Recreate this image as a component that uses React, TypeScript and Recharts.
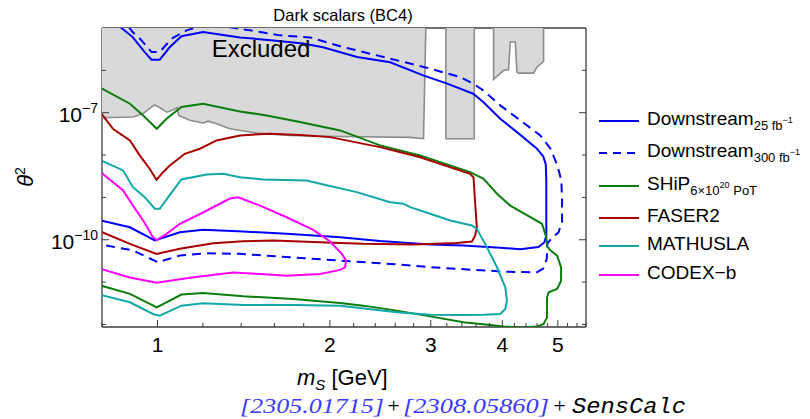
import React from 'react';
import { ComposedChart, XAxis, YAxis, Scatter } from 'recharts';

// sensitivity contours, [m_S in GeV, theta^2]
const downstream25: [number, number][] = [
  [0.825, 1.69e-5], [0.865, 1.0e-5], [0.905, 6.1e-6], [0.95, 2.7e-6], [0.976, 1.79e-6],
  [1.009, 1.79e-6], [1.051, 3.55e-6], [1.101, 6.4e-6], [1.201, 8.0e-6], [1.393, 6.0e-6],
  [1.593, 5.1e-6], [1.795, 4.3e-6], [1.945, 3.5e-6], [2.231, 2.06e-6], [2.548, 1.55e-6],
  [2.91, 7.6e-7], [3.205, 4.85e-7], [3.558, 2.81e-7], [3.705, 1.78e-7], [3.967, 7.2e-8],
  [4.243, 3.48e-8], [4.598, 1.41e-8], [4.716, 9.3e-9], [4.764, 6.0e-9], [4.774, 2.5e-9],
  [4.774, 1.26e-10], [4.736, 8.6e-11], [4.622, 6.7e-11], [4.3, 6.0e-11], [3.967, 6.5e-11],
  [3.418, 7.3e-11], [2.993, 7.7e-11], [2.447, 9.3e-11], [2.084, 1.15e-10], [1.681, 1.38e-10],
  [1.412, 1.56e-10], [1.201, 1.71e-10], [1.094, 1.5e-10], [0.989, 9.6e-11], [0.895, 1.97e-10],
  [0.796, 2.84e-10], [0.761, 3.2e-10],
];

const downstream300: [number, number][] = [
  [0.859, 2.0e-5], [0.905, 8.0e-6], [0.931, 5.7e-6], [0.976, 2.71e-6], [1.009, 2.71e-6],
  [1.058, 5.6e-6], [1.124, 8.8e-6], [1.186, 1.1e-5], [1.338, 1.04e-5], [1.45, 8.8e-6],
  [1.636, 6.7e-6], [1.846, 6.0e-6], [2.084, 3.7e-6], [2.548, 1.89e-6], [2.993, 1.1e-6],
  [3.377, 6.9e-7], [3.558, 4.85e-7], [3.705, 3.37e-7], [3.967, 1.49e-7], [4.3, 6.6e-8],
  [4.66, 2.91e-8], [4.852, 1.43e-8], [4.991, 5.7e-9], [5.072, 2.5e-9], [5.086, 8.4e-10],
  [5.086, 2.55e-10], [5.011, 1.48e-10], [4.891, 1.13e-10], [4.794, 8.1e-11], [4.784, 3.59e-11],
  [4.716, 2.08e-11], [4.585, 1.68e-11], [4.02, 1.77e-11], [2.993, 2.24e-11], [2.652, 2.59e-11],
  [2.084, 3.22e-11], [1.703, 3.86e-11], [1.393, 4.64e-11], [1.218, 4.8e-11], [1.094, 4.23e-11],
  [1.002, 2.94e-11], [0.906, 5.6e-11], [0.814, 7.3e-11], [0.777, 8.1e-11],
];

const ship: [number, number][] = [
  [0.761, 5.2e-7], [0.796, 3.82e-7], [0.895, 1.63e-7], [0.944, 8.6e-8], [0.997, 4.18e-8],
  [1.037, 7.2e-8], [1.101, 1.36e-7], [1.201, 1.63e-7], [1.393, 1.07e-7], [1.551, 8.6e-8],
  [1.773, 6.0e-8], [2.084, 3.82e-8], [2.447, 1.69e-8], [2.875, 9.8e-9], [3.516, 3.94e-9],
  [3.71, 2.75e-9], [3.915, 1.22e-9], [4.13, 6.4e-10], [4.477, 3.4e-10], [4.691, 2.38e-10],
  [4.774, 1.15e-10], [4.794, 6.9e-11], [4.852, 5.6e-11], [4.985, 4.23e-11], [5.066, 2.24e-11],
  [5.066, 1.08e-11], [4.985, 6.9e-12], [4.819, 5.74e-12], [4.788, 4.37e-12], [4.788, 1.47e-12],
  [4.722, 1.03e-12], [4.598, 8.9e-13], [4.352, 8.5e-13], [4.02, 8.9e-13], [3.811, 9.7e-13],
  [3.422, 1.12e-12], [2.993, 1.55e-12], [2.617, 2.12e-12], [2.288, 2.78e-12], [2.084, 3.22e-12],
  [1.726, 4.01e-12], [1.412, 4.62e-12], [1.201, 5.56e-12], [1.101, 5.07e-12], [0.997, 2.54e-12],
  [0.895, 5.26e-12], [0.796, 8.3e-12], [0.761, 9.7e-12],
];

const faser2: [number, number][] = [
  [0.761, 1.41e-7], [0.796, 1.0e-7], [0.836, 4.18e-8], [0.895, 2.21e-8], [0.931, 9.8e-9],
  [0.969, 4.74e-9], [0.996, 2.61e-9], [1.023, 3.94e-9], [1.051, 5.7e-9], [1.116, 1.07e-8],
  [1.186, 1.41e-8], [1.268, 2.21e-8], [1.393, 2.91e-8], [1.572, 3.19e-8], [1.773, 2.99e-8],
  [2.001, 2.65e-8], [2.447, 1.54e-8], [2.875, 8.9e-9], [3.516, 3.61e-9], [3.563, 2.95e-9],
  [3.587, 7.1e-10], [3.611, 1.97e-10], [3.587, 1.26e-10], [3.54, 9.1e-11], [3.332, 8.4e-11],
  [2.799, 7.7e-11], [2.288, 8.0e-11], [2.084, 8.4e-11], [1.593, 9.6e-11], [1.412, 9.2e-11],
  [1.251, 8.3e-11], [1.094, 6.1e-11], [0.996, 4.64e-11], [0.895, 8.0e-11], [0.796, 1.56e-10],
  [0.761, 1.81e-10],
];

const mathusla: [number, number][] = [
  [0.761, 1.09e-8], [0.796, 7.5e-9], [0.871, 4.33e-9], [0.906, 1.74e-9], [0.95, 1.01e-9],
  [0.989, 5.4e-10], [1.009, 5.4e-10], [1.044, 1.01e-9], [1.101, 2.65e-9], [1.218, 3.48e-9],
  [1.302, 3.61e-9], [1.393, 3.0e-9], [1.53, 2.65e-9], [1.822, 2.51e-9], [1.948, 2.02e-9],
  [2.228, 1.33e-9], [2.548, 7.7e-10], [2.688, 7.1e-10], [2.762, 5.9e-10], [2.993, 4.1e-10],
  [3.243, 2.84e-10], [3.54, 2.17e-10], [3.611, 1.81e-10], [3.761, 6.6e-11], [3.915, 2.24e-11],
  [4.048, 7.5e-12], [4.075, 3.65e-12], [4.048, 2.32e-12], [3.967, 1.77e-12], [3.71, 1.7e-12],
  [3.422, 1.68e-12], [2.993, 1.7e-12], [2.617, 1.93e-12], [2.084, 2.78e-12], [1.726, 2.89e-12],
  [1.412, 2.89e-12], [1.201, 3.15e-12], [1.101, 2.78e-12], [1.009, 1.61e-12], [0.982, 1.77e-12],
  [0.895, 3.33e-12], [0.796, 4.98e-12], [0.761, 5.96e-12],
];

const codexb: [number, number][] = [
  [0.761, 5.7e-9], [0.796, 3.94e-9], [0.871, 1.46e-9], [0.906, 6.4e-10], [0.944, 2.84e-10],
  [0.982, 1.15e-10], [0.997, 9.8e-11], [1.037, 1.38e-10], [1.094, 2.38e-10], [1.201, 4.4e-10],
  [1.338, 9.4e-10], [1.383, 1.01e-9], [1.51, 6.4e-10], [1.681, 3.4e-10], [1.871, 1.71e-10],
  [2.001, 9.1e-11], [2.098, 4.64e-11], [2.134, 3.22e-11], [2.126, 2.24e-11], [2.084, 1.94e-11],
  [1.922, 1.56e-11], [1.681, 1.42e-11], [1.51, 1.55e-11], [1.356, 1.68e-11], [1.139, 1.26e-11],
  [0.997, 9.7e-12], [0.895, 1.28e-11], [0.796, 2.05e-11], [0.761, 2.46e-11],
];

// excluded regions (closed outlines, top edge above the frame)
const excludedMain: [number, number][] = [
  [0.78, 2e-5], [2.944, 2e-5], [2.914, 2.43e-8], [2.762, 2.61e-8], [2.084, 2.75e-8],
  [1.703, 2.91e-8], [1.49, 3.29e-8], [1.338, 4.18e-8], [1.268, 5.5e-8], [1.226, 6.3e-8],
  [1.201, 5.7e-8], [1.139, 6.6e-8], [1.089, 8.6e-8], [1.082, 1.31e-7], [1.058, 1.13e-7],
  [1.037, 1.03e-7], [1.016, 1.26e-7], [0.989, 1.53e-7], [0.969, 1.26e-7], [0.944, 9.5e-8],
  [0.906, 7.9e-8], [0.796, 7.6e-8], [0.78, 7.5e-8],
];
const excludedStrip: [number, number][] = [
  [3.188, 2e-5], [3.188, 2.43e-8], [3.573, 2.43e-8], [3.573, 2e-5],
];
const excludedHigh: [number, number][] = [
  [3.862, 2e-5], [3.862, 6.1e-7], [4.02, 1.0e-6], [4.102, 1.04e-6], [4.13, 4.67e-6],
  [4.214, 4.67e-6], [4.243, 9.1e-7], [4.27, 8.6e-7], [4.536, 8.6e-7], [4.598, 1.2e-6],
  [4.722, 1.63e-6], [4.722, 2e-5],
];

const X_TICKS = [0.8, 1, 1.2, 1.4, 1.6, 1.8, 2, 2.2, 2.4, 2.6, 2.8, 3, 3.2, 3.4, 3.6, 3.8, 4, 4.2, 4.4, 4.6, 4.8, 5, 5.2, 5.4, 5.6];
const X_LABELED = [1, 2, 3, 4, 5];
const Y_TICKS = [1e-12, 1e-11, 1e-10, 1e-9, 1e-8, 1e-7, 1e-6];
const Y_LABELED = [1e-10, 1e-7];

const series = [
  { name: 'Downstream', sub: '25 fb', sup: '−1', color: '#0000ff', dash: undefined, pts: downstream25 },
  { name: 'Downstream', sub: '300 fb', sup: '−1', color: '#0000ff', dash: '9 6', pts: downstream300 },
  { name: 'SHiP', sub: '6×10', sup: '20', tail: ' PoT', color: '#0b7d0b', dash: undefined, pts: ship },
  { name: 'FASER2', color: '#a80000', dash: undefined, pts: faser2 },
  { name: 'MATHUSLA', color: '#12a8a8', dash: undefined, pts: mathusla },
  { name: 'CODEX−b', color: '#ff00ff', dash: undefined, pts: codexb },
];

const FONT = "'Liberation Sans', Arial, sans-serif";
const AXIS = '#3c3c3c';

const toRows = (pts: [number, number][]) => pts.map(([m, t]) => ({ m, t }));

// frame ticks point inward; only the bottom and left ones carry labels
const BottomTick = ({ x, y, payload }: any) => {
  const major = X_LABELED.includes(payload.value);
  return (
    <g>
      <line x1={x} x2={x} y1={y} y2={y - (major ? 7 : 4)} stroke={AXIS} />
      {major && (
        <text x={x} y={y + 25} textAnchor="middle" fontSize={21} fontFamily={FONT} fill="#000">
          {payload.value}
        </text>
      )}
    </g>
  );
};

const TopTick = ({ x, y, payload }: any) => {
  const major = X_LABELED.includes(payload.value);
  return <line x1={x} x2={x} y1={y} y2={y + (major ? 7 : 4)} stroke={AXIS} />;
};

const LeftTick = ({ x, y, payload }: any) => {
  const major = Y_LABELED.includes(payload.value);
  const exp = Math.round(Math.log10(payload.value));
  return (
    <g>
      <line x1={x} x2={x + (major ? 7 : 4)} y1={y} y2={y} stroke={AXIS} />
      {major && (
        <text x={x - 4} y={y + 9} textAnchor="end" fontSize={21} fontFamily={FONT} fill="#000">
          <tspan>10</tspan>
          <tspan dy={-9} fontSize={14}>{`−${Math.abs(exp)}`}</tspan>
        </text>
      )}
    </g>
  );
};

const RightTick = ({ x, y, payload }: any) => {
  const major = Y_LABELED.includes(payload.value);
  return <line x1={x} x2={x - (major ? 7 : 4)} y1={y} y2={y} stroke={AXIS} />;
};

const noDot = () => <g />;

const legendY = [121, 153, 186, 218, 246, 275];

export default function App() {
  return (
    <div style={{ position: 'absolute', left: 0, top: 0, width: 810, height: 419, background: '#fff' }}>
      <ComposedChart width={810} height={419} margin={{ top: 27, right: 223, bottom: 91, left: 101 }}>
        <XAxis
          xAxisId="b" dataKey="m" type="number" scale="log" domain={[0.8, 5.6]} allowDataOverflow
          ticks={X_TICKS} interval={0} tick={(p: any) => <BottomTick {...p} />} tickLine={false}
          tickSize={0} tickMargin={0} height={1} axisLine={{ stroke: AXIS, strokeWidth: 1.3 }}
        />
        <XAxis
          xAxisId="t" orientation="top" type="number" scale="log" domain={[0.8, 5.6]} allowDataOverflow
          ticks={X_TICKS} interval={0} tick={(p: any) => <TopTick {...p} />} tickLine={false}
          tickSize={0} tickMargin={0} height={1} axisLine={{ stroke: AXIS, strokeWidth: 1.3 }}
        />
        <YAxis
          yAxisId="l" dataKey="t" type="number" scale="log" domain={[8.7e-13, 1e-5]} allowDataOverflow
          ticks={Y_TICKS} interval={0} tick={(p: any) => <LeftTick {...p} />} tickLine={false}
          tickSize={0} tickMargin={0} width={1} axisLine={{ stroke: AXIS, strokeWidth: 1.3 }}
        />
        <YAxis
          yAxisId="r" orientation="right" type="number" scale="log" domain={[8.7e-13, 1e-5]} allowDataOverflow
          ticks={Y_TICKS} interval={0} tick={(p: any) => <RightTick {...p} />} tickLine={false}
          tickSize={0} tickMargin={0} width={1} axisLine={{ stroke: AXIS, strokeWidth: 1.3 }}
        />
        {[excludedMain, excludedStrip, excludedHigh].map((pts, i) => (
          <Scatter
            key={`ex${i}`} xAxisId="b" yAxisId="l" data={toRows(pts)} shape={noDot}
            line={{ stroke: '#8c8c8c', strokeWidth: 1.6, fill: '#d9d9d9' }} lineType="joint"
            isAnimationActive={false} legendType="none"
          />
        ))}
        {series.map((s, i) => (
          <Scatter
            key={`s${i}`} xAxisId="b" yAxisId="l" data={toRows(s.pts)} shape={noDot}
            line={{ stroke: s.color, strokeWidth: 2, fill: 'none', strokeDasharray: s.dash }}
            lineType="joint" isAnimationActive={false} legendType="none"
          />
        ))}
      </ComposedChart>

      <svg width={810} height={419} style={{ position: 'absolute', left: 0, top: 0, pointerEvents: 'none' }} fontFamily={FONT}>
        <text x={343} y={21} textAnchor="middle" fontSize={16.5} fill="#000">Dark scalars (BC4)</text>
        <text x={261} y={57} textAnchor="middle" fontSize={24} fill="#000">Excluded</text>

        <text transform="translate(33,177) rotate(-90)" textAnchor="middle" fontSize={22} fill="#000">
          <tspan fontStyle="italic">θ</tspan>
          <tspan dy={-8} fontSize={14}>2</tspan>
        </text>

        <text x={297} y={385} fontSize={22} fill="#000">
          <tspan fontStyle="italic">m</tspan>
          <tspan dy={5} fontSize={15} fontStyle="italic">S</tspan>
          <tspan dy={-5}> [GeV]</tspan>
        </text>

        <text x={240} y={413} fontSize={22} fontStyle="italic" fontFamily="'Liberation Serif', serif" fill="#3b3bff" textLength={144} lengthAdjust="spacingAndGlyphs">[2305.01715]</text>
        <text x={386} y={413} fontSize={22} fontStyle="italic" fontFamily="'Liberation Serif', serif" fill="#000">+</text>
        <text x={403} y={413} fontSize={22} fontStyle="italic" fontFamily="'Liberation Serif', serif" fill="#3b3bff" textLength={146} lengthAdjust="spacingAndGlyphs">[2308.05860]</text>
        <text x={552} y={413} fontSize={22} fontStyle="italic" fontFamily="'Liberation Serif', serif" fill="#000">+</text>
        <text x={572} y={413} fontSize={22} fontStyle="italic" fontFamily="'Liberation Mono', monospace" fill="#000" textLength={114} lengthAdjust="spacingAndGlyphs">SensCalc</text>

        {series.map((s, i) => {
          const y = legendY[i];
          return (
            <g key={`lg${i}`}>
              <line x1={599} x2={639} y1={y} y2={y} stroke={s.color} strokeWidth={2} strokeDasharray={s.dash ? '8 6' : undefined} />
              <text x={647} y={y + 4} fontSize={19} fill="#000">
                {s.name}
                {s.sub && <tspan dy={5} fontSize={13}>{s.sub}</tspan>}
                {s.sup && <tspan dy={-7} fontSize={9}>{s.sup}</tspan>}
                {s.tail && <tspan dy={7} fontSize={13}>{s.tail}</tspan>}
              </text>
            </g>
          );
        })}
      </svg>
    </div>
  );
}
